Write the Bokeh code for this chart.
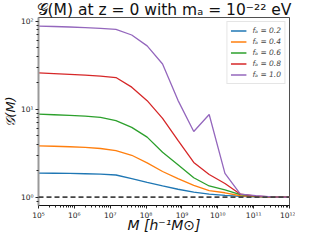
from bokeh.plotting import figure
from bokeh.models import FixedTicker, CustomJSTickFormatter, Range1d, Legend, LegendItem, Span, Title
from bokeh.embed import file_html
from bokeh.resources import INLINE

# data (halo mass in h^-1 Msun, exponent of 10)
logM = [5.0, 5.43, 5.87, 6.3, 6.73, 7.16, 7.6, 8.03, 8.46, 8.89,
        9.33, 9.76, 10.2, 10.63, 11.06, 11.5, 11.93, 12.36]
M = [10 ** v for v in logM]

fa_labels = ["fₐ = 0.2", "fₐ = 0.4", "fₐ = 0.6", "fₐ = 0.8", "fₐ = 1.0"]
G_02 = [1.88, 1.871, 1.862, 1.845, 1.824, 1.786, 1.622, 1.472, 1.343, 1.23,
        1.14, 1.08, 1.047, 1.023, 1.01, 1.004, 1.0, 1.0]
G_04 = [3.837, 3.793, 3.741, 3.681, 3.573, 3.373, 2.992, 2.455, 1.959, 1.622,
        1.365, 1.189, 1.122, 1.038, 1.012, 1.004, 1.0, 1.0]
G_06 = [8.79, 8.65, 8.49, 8.32, 8.07, 7.41, 6.22, 4.81, 3.24, 2.34,
        1.66, 1.34, 1.21, 1.07, 1.02, 1.006, 1.0, 1.0]
G_08 = [25.8, 25.4, 24.9, 24.4, 23.8, 22.9, 17.8, 12.5, 7.85, 4.42,
        2.48, 1.81, 1.43, 1.08, 1.03, 1.008, 1.0, 1.0]
G_10 = [87.9, 87.1, 85.9, 84.5, 82.8, 80.7, 69.7, 52.4, 32.6, 12.6,
        5.57, 8.71, 1.86, 1.08, 1.04, 1.01, 1.0, 1.0]
series = [G_02, G_04, G_06, G_08, G_10]
colors = ["#1f77b4", "#ff7f0e", "#2ca02c", "#d62728", "#9467bd"]

x_major = [1e5, 1e6, 1e7, 1e8, 1e9, 1e10, 1e11, 1e12]
y_major = [1e0, 1e1, 1e2]

title_text = "𝒢(M) at z = 0 with mₐ = 10⁻²² eV"
xlabel_text = "M [h⁻¹M⊙]"
ylabel_text = "𝒢(M)"

FONT = "DejaVu Sans"

p = figure(width=295, height=236, x_axis_type="log", y_axis_type="log",
           output_backend="svg", toolbar_location=None,
           x_range=Range1d(1e5, 1e12), y_range=Range1d(0.804, 110.2))
p.min_border_left = 33
p.min_border_right = 6
p.min_border_top = 14
p.min_border_bottom = 31
p.background_fill_color = "white"
p.border_fill_color = "white"
p.grid.visible = False
p.outline_line_color = "#222222"
p.outline_line_width = 0.8

fmt = CustomJSTickFormatter(code="""
const sup = {'0':'⁰','1':'¹','2':'²','3':'³','4':'⁴','5':'⁵','6':'⁶','7':'⁷','8':'⁸','9':'⁹','-':'⁻'};
const e = Math.round(Math.log10(tick));
return '10' + String(e).split('').map(c => sup[c]).join('');
""")

def minors(lo, hi):
    out = []
    for e in range(lo, hi):
        for k in range(2, 10):
            out.append(k * 10 ** e)
    return out

p.xaxis.ticker = FixedTicker(ticks=x_major, minor_ticks=minors(4, 12))
p.yaxis.ticker = FixedTicker(ticks=y_major, minor_ticks=minors(-1, 3))
for ax in (p.xaxis[0], p.yaxis[0]):
    ax.formatter = fmt
    ax.major_label_text_font = FONT
    ax.major_label_text_font_size = "7.5px"
    ax.major_label_text_color = "#222222"
    ax.major_tick_line_color = "#222222"
    ax.minor_tick_line_color = "#222222"
    ax.major_tick_out = 3
    ax.major_tick_in = 0
    ax.minor_tick_out = 2
    ax.minor_tick_in = 0
    ax.major_label_standoff = 2

p.xaxis.axis_label = xlabel_text
p.xaxis.axis_label_text_font = FONT
p.xaxis.axis_label_text_font_size = "14px"
p.xaxis.axis_label_text_font_style = "italic"
p.xaxis.axis_label_text_color = "#111111"
p.xaxis.axis_label_standoff = -6
p.xaxis.axis_line_color = "#111111"
p.xaxis.axis_line_width = 1
p.yaxis.axis_label_standoff = 0
p.yaxis.axis_line_color = "#999999"
p.yaxis.axis_line_width = 2

renderers = []
for ys, c in zip(series, colors):
    r = p.line(M, ys, line_color=c, line_width=1.3)
    renderers.append(r)

p.add_layout(Span(location=1.0, dimension="width", line_color="#444444",
                  line_dash="5 3", line_width=1.6))

# title and y label as side-panel titles
p.add_layout(Title(text=title_text, text_font=FONT, text_font_size="15.5px",
                   text_font_style="normal", align="center", offset=44, standoff=-3,
                   text_color="#111111"), "above")
p.add_layout(Title(text=ylabel_text, text_font=FONT, text_font_size="13px",
                   text_font_style="italic", align="center", standoff=0,
                   text_color="#111111"), "left")

legend = Legend(items=[LegendItem(label=l, renderers=[r]) for l, r in zip(fa_labels, renderers)],
                location="top_right")
legend.label_text_font = FONT
legend.label_text_font_size = "7.5px"
legend.label_text_font_style = "italic"
legend.glyph_width = 16
legend.glyph_height = 11
legend.label_height = 11
legend.label_standoff = 6
legend.spacing = 0
legend.padding = 3
legend.margin = 4
legend.border_line_color = "#cccccc"
legend.border_line_width = 1
legend.background_fill_alpha = 0.9
p.add_layout(legend)

open("out.html", "w").write(file_html(p, INLINE))
